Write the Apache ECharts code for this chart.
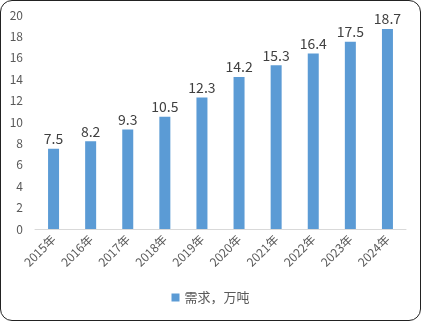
<!DOCTYPE html>
<html><head><meta charset="utf-8">
<script src="https://cdn.jsdelivr.net/npm/echarts@6/dist/echarts.min.js"></script>
<style>
html,body{margin:0;padding:0;background:#fff;}
#wrap{position:absolute;left:0;top:0;width:419px;height:319px;border:1px solid #222;border-radius:12px;overflow:hidden;}
#c{position:absolute;left:-1px;top:-1px;width:421px;height:321px;}
</style></head>
<body><div id="wrap"><div id="c"></div></div>
<script>
const categories = ['2015年','2016年','2017年','2018年','2019年','2020年','2021年','2022年','2023年','2024年'];
const demand = [7.5, 8.2, 9.3, 10.5, 12.3, 14.2, 15.3, 16.4, 17.5, 18.7];
const seriesName = '需求，万吨';
const chart = echarts.init(document.getElementById('c'), null, {renderer:'canvas'});
const font = '"Microsoft YaHei","Noto Sans CJK SC","DejaVu Sans",sans-serif';
chart.setOption({
  animation:false,
  textStyle:{fontFamily:font},
  grid:{left:35,right:15,top:15,bottom:92,containLabel:false},
  legend:{bottom:12,left:'center',itemWidth:8,itemHeight:8,icon:'rect',itemGap:4,
    textStyle:{color:'#595959',fontSize:13,fontFamily:font},data:[seriesName]},
  xAxis:{type:'category',data:categories,
    axisLine:{lineStyle:{color:'#d9d9d9'}},axisTick:{show:false},
    axisLabel:{rotate:45,color:'#595959',fontSize:12,margin:8,interval:0,fontFamily:font}},
  yAxis:{type:'value',min:0,max:20,interval:2,
    axisLine:{show:false},axisTick:{show:false},splitLine:{show:false},
    axisLabel:{color:'#595959',fontSize:12,margin:12,fontFamily:font}},
  series:[{name:seriesName,type:'bar',data:demand,barWidth:11,
    itemStyle:{color:'#5B9BD5'},
    label:{show:true,position:'top',color:'#404040',fontSize:14,distance:3,fontFamily:font}}]
});
</script></body></html>
